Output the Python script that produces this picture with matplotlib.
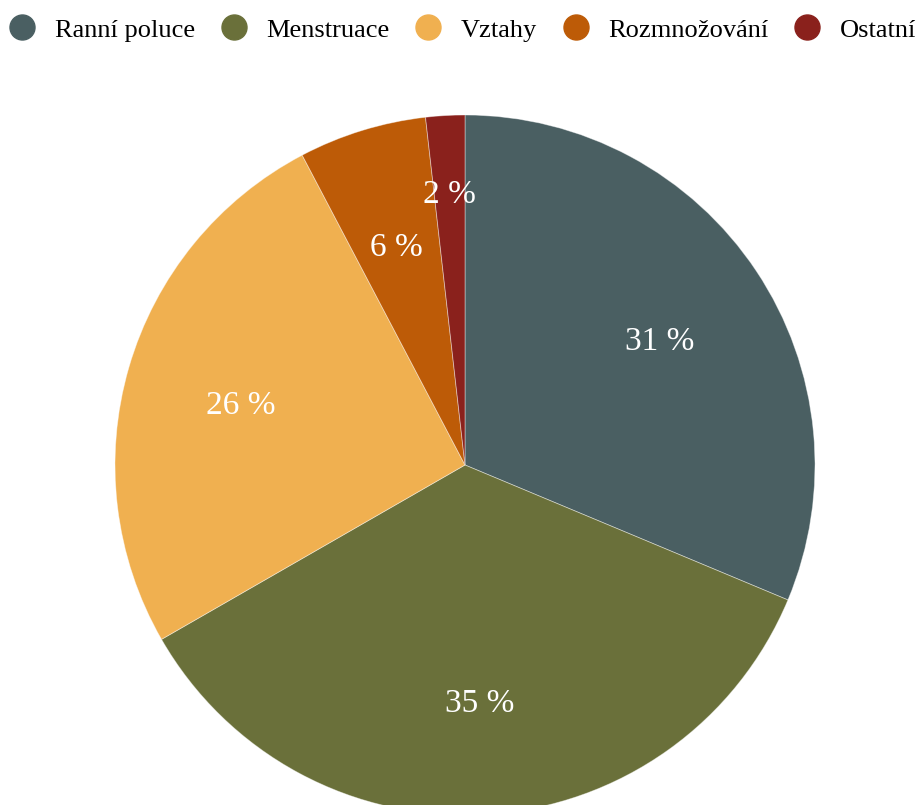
import numpy as np
import matplotlib
matplotlib.use('Agg')
import matplotlib.pyplot as plt
from matplotlib.lines import Line2D

plt.rcParams['font.family'] = ['Liberation Serif', 'DejaVu Serif']

# data
labels = ['Ranní poluce', 'Menstruace', 'Vztahy', 'Rozmnožování', 'Ostatní']
values = [31.3, 35.4, 25.6, 5.9, 1.8]
colors = ['#4a5f62', '#6a703a', '#f0b050', '#bd5b07', '#8a211c']

fig = plt.figure(figsize=(9.22, 8.05), dpi=100)

# pie axes: center (465, 465) px, radius 350 px
W, H = 922, 805
cx, cy, r = 465, H - 465, 350
ax = fig.add_axes([(cx - r) / W, (cy - r) / H, 2 * r / W, 2 * r / H])

wedges, texts, autotexts = ax.pie(
    values, colors=colors, startangle=90, counterclock=False, radius=1,
    autopct=lambda p: '%d %%' % round(p), pctdistance=0.667,
    wedgeprops=dict(edgecolor=(1, 1, 1, 0.45), linewidth=0.6),
    textprops=dict(color='white', fontsize=24))

# nudge labels down a little, small slice label sits further out
for i, (w, t) in enumerate(zip(wedges, autotexts)):
    mid = np.deg2rad((w.theta1 + w.theta2) / 2)
    d = 0.79 if i == 4 else 0.667
    t.set_position((d * np.cos(mid), d * np.sin(mid) - 0.017))

ax.set_xlim(-1, 1)
ax.set_ylim(-1, 1)
ax.axis('off')

handles = [Line2D([], [], marker='o', linestyle='None', markersize=18,
                  markerfacecolor=c, markeredgecolor=c) for c in colors]
fig.legend(handles, labels, loc='upper center', bbox_to_anchor=(0.502, 1.007),
           ncol=5, frameon=False, fontsize=19, handlelength=1.0,
           handletextpad=0.75, columnspacing=0.95)

fig.savefig('out.png', dpi=100)
